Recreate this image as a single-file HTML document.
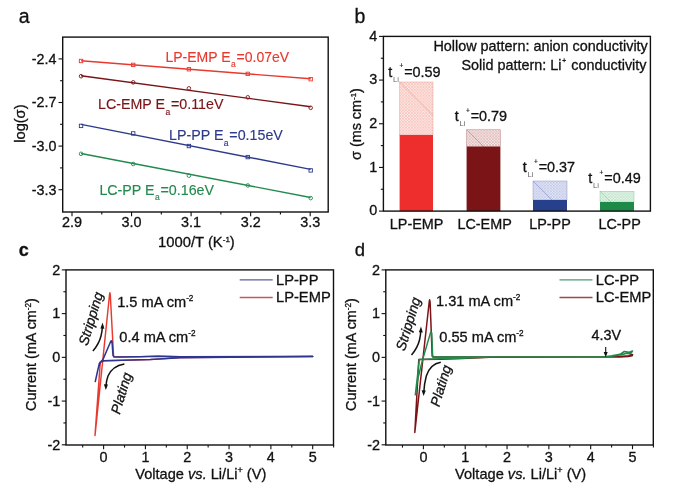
<!DOCTYPE html>
<html><head><meta charset="utf-8"><title>Figure</title>
<style>
html,body{margin:0;padding:0;background:#fff;}
svg{display:block;font-family:"Liberation Sans", sans-serif;}
</style></head><body>
<svg width="700" height="488" viewBox="0 0 700 488">
<rect width="700" height="488" fill="#fff"/>
<text x="18.7" y="22.7" font-size="19.5" text-anchor="start" fill="#111" stroke="#111" stroke-width="0.3" >a</text>
<text x="354.5" y="22.7" font-size="19.5" text-anchor="start" fill="#111" stroke="#111" stroke-width="0.3" >b</text>
<text x="18.7" y="256" font-size="18" text-anchor="start" fill="#111" stroke="#111" stroke-width="0.3" font-weight="bold">c</text>
<text x="354.7" y="256" font-size="18.5" text-anchor="start" fill="#111" stroke="#111" stroke-width="0.3" >d</text>
<rect x="62.7" y="37.1" width="265.5" height="174.9" fill="none" stroke="#111" stroke-width="1.4"/>
<line x1="58.5" y1="58.9" x2="62.7" y2="58.9" stroke="#111" stroke-width="1.1" />
<text x="56.5" y="63.8" font-size="14.3" text-anchor="end" fill="#111" stroke="#111" stroke-width="0.3" >-2.4</text>
<line x1="58.5" y1="102.50000000000003" x2="62.7" y2="102.50000000000003" stroke="#111" stroke-width="1.1" />
<text x="56.5" y="107.40000000000003" font-size="14.3" text-anchor="end" fill="#111" stroke="#111" stroke-width="0.3" >-2.7</text>
<line x1="58.5" y1="146.10000000000002" x2="62.7" y2="146.10000000000002" stroke="#111" stroke-width="1.1" />
<text x="56.5" y="151.00000000000003" font-size="14.3" text-anchor="end" fill="#111" stroke="#111" stroke-width="0.3" >-3.0</text>
<line x1="58.5" y1="189.70000000000002" x2="62.7" y2="189.70000000000002" stroke="#111" stroke-width="1.1" />
<text x="56.5" y="194.60000000000002" font-size="14.3" text-anchor="end" fill="#111" stroke="#111" stroke-width="0.3" >-3.3</text>
<line x1="60.1" y1="80.69999999999999" x2="62.7" y2="80.69999999999999" stroke="#111" stroke-width="1.1" />
<line x1="60.1" y1="124.30000000000004" x2="62.7" y2="124.30000000000004" stroke="#111" stroke-width="1.1" />
<line x1="60.1" y1="167.9" x2="62.7" y2="167.9" stroke="#111" stroke-width="1.1" />
<line x1="72.0" y1="212.0" x2="72.0" y2="216.2" stroke="#111" stroke-width="1.1" />
<text x="72.0" y="227.3" font-size="14.4" text-anchor="middle" fill="#111" stroke="#111" stroke-width="0.3" >2.9</text>
<line x1="131.55000000000007" y1="212.0" x2="131.55000000000007" y2="216.2" stroke="#111" stroke-width="1.1" />
<text x="131.55000000000007" y="227.3" font-size="14.4" text-anchor="middle" fill="#111" stroke="#111" stroke-width="0.3" >3.0</text>
<line x1="191.1000000000001" y1="212.0" x2="191.1000000000001" y2="216.2" stroke="#111" stroke-width="1.1" />
<text x="191.1000000000001" y="227.3" font-size="14.4" text-anchor="middle" fill="#111" stroke="#111" stroke-width="0.3" >3.1</text>
<line x1="250.65000000000015" y1="212.0" x2="250.65000000000015" y2="216.2" stroke="#111" stroke-width="1.1" />
<text x="250.65000000000015" y="227.3" font-size="14.4" text-anchor="middle" fill="#111" stroke="#111" stroke-width="0.3" >3.2</text>
<line x1="310.19999999999993" y1="212.0" x2="310.19999999999993" y2="216.2" stroke="#111" stroke-width="1.1" />
<text x="310.19999999999993" y="227.3" font-size="14.4" text-anchor="middle" fill="#111" stroke="#111" stroke-width="0.3" >3.3</text>
<line x1="101.77500000000016" y1="212.0" x2="101.77500000000016" y2="214.6" stroke="#111" stroke-width="1.1" />
<line x1="161.32499999999993" y1="212.0" x2="161.32499999999993" y2="214.6" stroke="#111" stroke-width="1.1" />
<line x1="220.875" y1="212.0" x2="220.875" y2="214.6" stroke="#111" stroke-width="1.1" />
<line x1="280.42500000000007" y1="212.0" x2="280.42500000000007" y2="214.6" stroke="#111" stroke-width="1.1" />
<text x="196.4" y="247.3" font-size="14.8" text-anchor="middle" fill="#111" stroke="#111" stroke-width="0.3" >1000/T (K<tspan font-size="8" dy="-5.4">-1</tspan><tspan dy="5.4">)</tspan></text>
<text x="24.6" y="123.6" font-size="14.6" text-anchor="middle" fill="#111" stroke="#111" stroke-width="0.3" transform="rotate(-90 24.6 123.6)">log(σ)</text>
<line x1="81.05160000000006" y1="60.8" x2="310.67640000000017" y2="78.8" stroke="#e8392f" stroke-width="1.4" />
<rect x="79.35" y="59.30" width="3.4" height="3.4" fill="none" stroke="#e8392f" stroke-width="0.9"/>
<rect x="131.52" y="63.19" width="3.4" height="3.4" fill="none" stroke="#e8392f" stroke-width="0.9"/>
<rect x="187.20" y="67.55" width="3.4" height="3.4" fill="none" stroke="#e8392f" stroke-width="0.9"/>
<rect x="246.09" y="72.17" width="3.4" height="3.4" fill="none" stroke="#e8392f" stroke-width="0.9"/>
<rect x="308.98" y="77.50" width="3.4" height="3.4" fill="none" stroke="#e8392f" stroke-width="0.9"/>
<line x1="81.05160000000006" y1="75.8" x2="310.67640000000017" y2="106.8" stroke="#7a1416" stroke-width="1.4" />
<circle cx="81.05" cy="76.20" r="1.8" fill="none" stroke="#7a1416" stroke-width="0.9"/>
<circle cx="133.22" cy="82.34" r="1.8" fill="none" stroke="#7a1416" stroke-width="0.9"/>
<circle cx="188.90" cy="88.36" r="1.8" fill="none" stroke="#7a1416" stroke-width="0.9"/>
<circle cx="247.79" cy="97.31" r="1.8" fill="none" stroke="#7a1416" stroke-width="0.9"/>
<circle cx="310.68" cy="107.80" r="1.8" fill="none" stroke="#7a1416" stroke-width="0.9"/>
<line x1="81.05160000000006" y1="124.4" x2="310.67640000000017" y2="169.4" stroke="#2d3a8c" stroke-width="1.4" />
<rect x="79.35" y="124.20" width="3.4" height="3.4" fill="none" stroke="#2d3a8c" stroke-width="0.9"/>
<rect x="131.52" y="131.72" width="3.4" height="3.4" fill="none" stroke="#2d3a8c" stroke-width="0.9"/>
<rect x="187.20" y="144.33" width="3.4" height="3.4" fill="none" stroke="#2d3a8c" stroke-width="0.9"/>
<rect x="246.09" y="155.38" width="3.4" height="3.4" fill="none" stroke="#2d3a8c" stroke-width="0.9"/>
<rect x="308.98" y="168.70" width="3.4" height="3.4" fill="none" stroke="#2d3a8c" stroke-width="0.9"/>
<line x1="81.05160000000006" y1="153.5" x2="310.67640000000017" y2="197.5" stroke="#238a4e" stroke-width="1.4" />
<circle cx="81.05" cy="153.80" r="1.8" fill="none" stroke="#238a4e" stroke-width="0.9"/>
<circle cx="133.22" cy="164.00" r="1.8" fill="none" stroke="#238a4e" stroke-width="0.9"/>
<circle cx="188.90" cy="175.66" r="1.8" fill="none" stroke="#238a4e" stroke-width="0.9"/>
<circle cx="247.79" cy="185.45" r="1.8" fill="none" stroke="#238a4e" stroke-width="0.9"/>
<circle cx="310.68" cy="198.10" r="1.8" fill="none" stroke="#238a4e" stroke-width="0.9"/>
<text x="165.5" y="61.7" font-size="14.0" text-anchor="start" fill="#e8392f" stroke="#e8392f" stroke-width="0.15" >LP-EMP E<tspan font-size="8.5" dy="5.7" dx="0.4">a</tspan><tspan dy="-5.7" dx="0.8">=0.07eV</tspan></text>
<text x="98" y="109.1" font-size="14.25" text-anchor="start" fill="#7a1416" stroke="#7a1416" stroke-width="0.15" >LC-EMP E<tspan font-size="8.5" dy="5.7" dx="0.4">a</tspan><tspan dy="-5.7" dx="0.8">=0.11eV</tspan></text>
<text x="169" y="140.2" font-size="14.25" text-anchor="start" fill="#2d3a8c" stroke="#2d3a8c" stroke-width="0.15" >LP-PP E<tspan font-size="8.5" dy="5.7" dx="0.4">a</tspan><tspan dy="-5.7" dx="0.8">=0.15eV</tspan></text>
<text x="99.4" y="194.6" font-size="14.25" text-anchor="start" fill="#238a4e" stroke="#238a4e" stroke-width="0.15" >LC-PP E<tspan font-size="8.5" dy="5.7" dx="0.4">a</tspan><tspan dy="-5.7" dx="0.8">=0.16eV</tspan></text>
<defs><pattern id="hR" width="2.9" height="2.9" patternUnits="userSpaceOnUse"><rect width="2.9" height="2.9" fill="#fdebe7"/><path d="M0 0L2.9 2.9M2.9 0L0 2.9" stroke="#f4a9a1" stroke-width="0.5"/></pattern><pattern id="hD" width="2.9" height="2.9" patternUnits="userSpaceOnUse"><rect width="2.9" height="2.9" fill="#f6e9e8"/><path d="M0 0L2.9 2.9M2.9 0L0 2.9" stroke="#cf9c9c" stroke-width="0.5"/></pattern><pattern id="hB" width="2.9" height="2.9" patternUnits="userSpaceOnUse"><rect width="2.9" height="2.9" fill="#e8ebf8"/><path d="M0 0L2.9 2.9M2.9 0L0 2.9" stroke="#a6aeda" stroke-width="0.5"/></pattern><pattern id="hG" width="2.9" height="2.9" patternUnits="userSpaceOnUse"><rect width="2.9" height="2.9" fill="#e8f6ec"/><path d="M0 0L2.9 2.9M2.9 0L0 2.9" stroke="#a6d7b5" stroke-width="0.5"/></pattern></defs>
<rect x="399.6" y="82" width="33.39999999999998" height="53" fill="url(#hR)" stroke="#e58a82" stroke-width="0.4"/>
<line x1="399.6" y1="82" x2="433" y2="115.4" stroke="#e58a82" stroke-width="0.5"/>
<rect x="399.6" y="135" width="33.39999999999998" height="76.1" fill="#ee2e2c"/>
<text x="388.2" y="76.5" font-size="14.4" text-anchor="start" fill="#111" stroke="#111" stroke-width="0.3" >t</text>
<text x="393.0" y="81.6" font-size="7.7" fill="#666">Li</text>
<text x="399.4" y="68.4" font-size="6.5" fill="#222" stroke="#222" stroke-width="0.2">+</text>
<text x="404.2" y="76.5" font-size="14.4" text-anchor="start" fill="#111" stroke="#111" stroke-width="0.3" >=0.59</text>
<rect x="466.6" y="129.8" width="33.799999999999955" height="16.799999999999983" fill="url(#hD)" stroke="#a86a6c" stroke-width="0.4"/>
<line x1="467" y1="130" x2="484" y2="147" stroke="#a86a6c" stroke-width="0.5"/>
<rect x="466.6" y="146.6" width="33.799999999999955" height="64.5" fill="#7a1416"/>
<text x="454.7" y="121.2" font-size="14.4" text-anchor="start" fill="#111" stroke="#111" stroke-width="0.3" >t</text>
<text x="459.5" y="126.3" font-size="7.7" fill="#666">Li</text>
<text x="465.9" y="113.10000000000001" font-size="6.5" fill="#222" stroke="#222" stroke-width="0.2">+</text>
<text x="470.7" y="121.2" font-size="14.4" text-anchor="start" fill="#111" stroke="#111" stroke-width="0.3" >=0.79</text>
<rect x="533" y="181" width="34" height="19" fill="url(#hB)" stroke="#7580bd" stroke-width="0.4"/>
<line x1="533" y1="181" x2="552" y2="200" stroke="#7580bd" stroke-width="0.5"/>
<rect x="533" y="200" width="34" height="11.099999999999994" fill="#27408b"/>
<text x="522.7" y="171.6" font-size="14.4" text-anchor="start" fill="#111" stroke="#111" stroke-width="0.3" >t</text>
<text x="527.5" y="176.7" font-size="7.7" fill="#666">Li</text>
<text x="533.9" y="163.5" font-size="6.5" fill="#222" stroke="#222" stroke-width="0.2">+</text>
<text x="538.7" y="171.6" font-size="14.4" text-anchor="start" fill="#111" stroke="#111" stroke-width="0.3" >=0.37</text>
<rect x="600" y="191.2" width="34" height="10.800000000000011" fill="url(#hG)" stroke="#7cbf92" stroke-width="0.4"/>
<line x1="600" y1="191.2" x2="610.8" y2="202" stroke="#7cbf92" stroke-width="0.5"/>
<rect x="600" y="202" width="34" height="9.099999999999994" fill="#1e8a47"/>
<text x="588.3000000000001" y="182.6" font-size="14.4" text-anchor="start" fill="#111" stroke="#111" stroke-width="0.3" >t</text>
<text x="593.1" y="187.7" font-size="7.7" fill="#666">Li</text>
<text x="599.5" y="174.5" font-size="6.5" fill="#222" stroke="#222" stroke-width="0.2">+</text>
<text x="604.3000000000001" y="182.6" font-size="14.4" text-anchor="start" fill="#111" stroke="#111" stroke-width="0.3" >=0.49</text>
<rect x="383.4" y="36.4" width="267.0" height="174.7" fill="none" stroke="#111" stroke-width="1.4"/>
<line x1="379.0" y1="211.1" x2="383.4" y2="211.1" stroke="#111" stroke-width="1.1" />
<text x="377.3" y="215.4" font-size="14.4" text-anchor="end" fill="#111" stroke="#111" stroke-width="0.3" >0</text>
<line x1="379.0" y1="167.425" x2="383.4" y2="167.425" stroke="#111" stroke-width="1.1" />
<text x="377.3" y="171.72500000000002" font-size="14.4" text-anchor="end" fill="#111" stroke="#111" stroke-width="0.3" >1</text>
<line x1="379.0" y1="123.75" x2="383.4" y2="123.75" stroke="#111" stroke-width="1.1" />
<text x="377.3" y="128.05" font-size="14.4" text-anchor="end" fill="#111" stroke="#111" stroke-width="0.3" >2</text>
<line x1="379.0" y1="80.07500000000002" x2="383.4" y2="80.07500000000002" stroke="#111" stroke-width="1.1" />
<text x="377.3" y="84.37500000000001" font-size="14.4" text-anchor="end" fill="#111" stroke="#111" stroke-width="0.3" >3</text>
<line x1="379.0" y1="36.400000000000006" x2="383.4" y2="36.400000000000006" stroke="#111" stroke-width="1.1" />
<text x="377.3" y="40.7" font-size="14.4" text-anchor="end" fill="#111" stroke="#111" stroke-width="0.3" >4</text>
<line x1="380.79999999999995" y1="189.2625" x2="383.4" y2="189.2625" stroke="#111" stroke-width="1.1" />
<line x1="380.79999999999995" y1="145.5875" x2="383.4" y2="145.5875" stroke="#111" stroke-width="1.1" />
<line x1="380.79999999999995" y1="101.9125" x2="383.4" y2="101.9125" stroke="#111" stroke-width="1.1" />
<line x1="380.79999999999995" y1="58.23750000000001" x2="383.4" y2="58.23750000000001" stroke="#111" stroke-width="1.1" />
<text x="416.6" y="228.6" font-size="14.4" text-anchor="middle" fill="#111" stroke="#111" stroke-width="0.3" >LP-EMP</text>
<text x="484.6" y="228.6" font-size="14.4" text-anchor="middle" fill="#111" stroke="#111" stroke-width="0.3" >LC-EMP</text>
<text x="550" y="228.6" font-size="14.4" text-anchor="middle" fill="#111" stroke="#111" stroke-width="0.3" >LP-PP</text>
<text x="619.6" y="228.6" font-size="14.4" text-anchor="middle" fill="#111" stroke="#111" stroke-width="0.3" >LC-PP</text>
<text x="647.8" y="50.6" font-size="14.4" text-anchor="end" fill="#111" stroke="#111" stroke-width="0.3" >Hollow pattern: anion conductivity</text>
<text x="646.5" y="70.2" font-size="14.4" text-anchor="end" fill="#111" stroke="#111" stroke-width="0.3" >Solid pattern: Li<tspan font-size="6.5" dy="-6.8" dx="0.8">+</tspan><tspan dy="6.8" dx="1.2"> conductivity</tspan></text>
<text x="361.3" y="124.1" font-size="14.4" text-anchor="middle" fill="#111" stroke="#111" stroke-width="0.3" transform="rotate(-90 361.3 124.1)">σ (ms cm<tspan font-size="7.8" dy="-5.4">-1</tspan><tspan dy="5.4">)</tspan></text>
<path d="M100.3 362 L95 435.5 L109.5 295 L109.9 292.8 L110.3 295 L113.6 356.6 L120 357 L140 356.6 L158 356.1 L180 356.7 L312.8 356.5 L180 357.6 L150 359.6 L104 360.8 L100.3 362" fill="none" stroke="#e8392f" stroke-width="1.45" stroke-linejoin="round" stroke-linecap="round" />
<path d="M100.5 362 L98 369 L95.3 381.5 L97.6 371 L99.4 363.2 L102.9 359.6 L110.8 341.2 L111.4 340.8 L112 341.6 L113 355.4 L114.1 357 L140 356.7 L158 356.2 L180 356.8 L312.8 356.5 L180 357.7 L150 359.6 L104 360.8 L100.5 362" fill="none" stroke="#2d3590" stroke-width="1.5" stroke-linejoin="round" stroke-linecap="round" />
<rect x="66.0" y="269.9" width="267.5" height="175.10000000000002" fill="none" stroke="#111" stroke-width="1.4"/>
<line x1="61.8" y1="269.90000000000003" x2="66.0" y2="269.90000000000003" stroke="#111" stroke-width="1.1" />
<text x="60.2" y="274.6" font-size="14.4" text-anchor="end" fill="#111" stroke="#111" stroke-width="0.3" >2</text>
<line x1="61.8" y1="313.625" x2="66.0" y2="313.625" stroke="#111" stroke-width="1.1" />
<text x="60.2" y="318.325" font-size="14.4" text-anchor="end" fill="#111" stroke="#111" stroke-width="0.3" >1</text>
<line x1="61.8" y1="357.35" x2="66.0" y2="357.35" stroke="#111" stroke-width="1.1" />
<text x="60.2" y="362.05" font-size="14.4" text-anchor="end" fill="#111" stroke="#111" stroke-width="0.3" >0</text>
<line x1="61.8" y1="401.07500000000005" x2="66.0" y2="401.07500000000005" stroke="#111" stroke-width="1.1" />
<text x="60.2" y="405.77500000000003" font-size="14.4" text-anchor="end" fill="#111" stroke="#111" stroke-width="0.3" >-1</text>
<line x1="61.8" y1="444.8" x2="66.0" y2="444.8" stroke="#111" stroke-width="1.1" />
<text x="60.2" y="449.5" font-size="14.4" text-anchor="end" fill="#111" stroke="#111" stroke-width="0.3" >-2</text>
<line x1="63.4" y1="291.76250000000005" x2="66.0" y2="291.76250000000005" stroke="#111" stroke-width="1.1" />
<line x1="63.4" y1="335.4875" x2="66.0" y2="335.4875" stroke="#111" stroke-width="1.1" />
<line x1="63.4" y1="379.21250000000003" x2="66.0" y2="379.21250000000003" stroke="#111" stroke-width="1.1" />
<line x1="63.4" y1="422.9375" x2="66.0" y2="422.9375" stroke="#111" stroke-width="1.1" />
<line x1="103.6" y1="445.0" x2="103.6" y2="449.2" stroke="#111" stroke-width="1.1" />
<text x="103.6" y="461.8" font-size="14.4" text-anchor="middle" fill="#111" stroke="#111" stroke-width="0.3" >0</text>
<line x1="145.42" y1="445.0" x2="145.42" y2="449.2" stroke="#111" stroke-width="1.1" />
<text x="145.42" y="461.8" font-size="14.4" text-anchor="middle" fill="#111" stroke="#111" stroke-width="0.3" >1</text>
<line x1="187.24" y1="445.0" x2="187.24" y2="449.2" stroke="#111" stroke-width="1.1" />
<text x="187.24" y="461.8" font-size="14.4" text-anchor="middle" fill="#111" stroke="#111" stroke-width="0.3" >2</text>
<line x1="229.06" y1="445.0" x2="229.06" y2="449.2" stroke="#111" stroke-width="1.1" />
<text x="229.06" y="461.8" font-size="14.4" text-anchor="middle" fill="#111" stroke="#111" stroke-width="0.3" >3</text>
<line x1="270.88" y1="445.0" x2="270.88" y2="449.2" stroke="#111" stroke-width="1.1" />
<text x="270.88" y="461.8" font-size="14.4" text-anchor="middle" fill="#111" stroke="#111" stroke-width="0.3" >4</text>
<line x1="312.7" y1="445.0" x2="312.7" y2="449.2" stroke="#111" stroke-width="1.1" />
<text x="312.7" y="461.8" font-size="14.4" text-anchor="middle" fill="#111" stroke="#111" stroke-width="0.3" >5</text>
<line x1="82.69" y1="445.0" x2="82.69" y2="447.6" stroke="#111" stroke-width="1.1" />
<line x1="124.50999999999999" y1="445.0" x2="124.50999999999999" y2="447.6" stroke="#111" stroke-width="1.1" />
<line x1="166.32999999999998" y1="445.0" x2="166.32999999999998" y2="447.6" stroke="#111" stroke-width="1.1" />
<line x1="208.14999999999998" y1="445.0" x2="208.14999999999998" y2="447.6" stroke="#111" stroke-width="1.1" />
<line x1="249.97" y1="445.0" x2="249.97" y2="447.6" stroke="#111" stroke-width="1.1" />
<line x1="291.78999999999996" y1="445.0" x2="291.78999999999996" y2="447.6" stroke="#111" stroke-width="1.1" />
<line x1="333.61" y1="445.0" x2="333.61" y2="447.6" stroke="#111" stroke-width="1.1" />
<text x="200.8" y="479.4" font-size="14.6" text-anchor="middle" fill="#111" stroke="#111" stroke-width="0.3" >Voltage <tspan font-style="italic">vs.</tspan> Li/Li<tspan font-size="9" dy="-6">+</tspan><tspan dy="6"> (V)</tspan></text>
<text x="36.4" y="354.5" font-size="14.4" text-anchor="middle" fill="#111" stroke="#111" stroke-width="0.3" transform="rotate(-90 36.4 354.5)">Current (mA cm<tspan font-size="8.2" dy="-5.6">-2</tspan><tspan dy="5.6">)</tspan></text>
<line x1="239.7" y1="279.9" x2="272.7" y2="279.9" stroke="#5a5f9a" stroke-width="1.4" />
<text x="276" y="284.59999999999997" font-size="14.7" text-anchor="start" fill="#111" stroke="#111" stroke-width="0.3" >LP-PP</text>
<line x1="239.7" y1="297.5" x2="272.7" y2="297.5" stroke="#c8565a" stroke-width="1.4" />
<text x="276" y="302.2" font-size="14.7" text-anchor="start" fill="#111" stroke="#111" stroke-width="0.3" >LP-EMP</text>
<text x="117.2" y="306.5" font-size="14.6" text-anchor="start" fill="#111" stroke="#111" stroke-width="0.3" >1.5 mA cm<tspan font-size="8.2" dy="-5.8">-2</tspan></text>
<text x="119.3" y="341.9" font-size="14.6" text-anchor="start" fill="#111" stroke="#111" stroke-width="0.3" >0.4 mA cm<tspan font-size="8.2" dy="-5.8">-2</tspan></text>
<text x="0" y="0" font-size="13.9" text-anchor="middle" fill="#111" stroke="#111" stroke-width="0.3" font-style="italic" transform="translate(95.3,320.1) rotate(-73.2)">Stripping</text>
<text x="0" y="0" font-size="13.9" text-anchor="middle" fill="#111" stroke="#111" stroke-width="0.3" font-style="italic" transform="translate(125.8,394.6) rotate(-73.2)">Plating</text>
<path d="M92.9 351 Q99 344 101 336 Q102.3 331 102.4 326" fill="none" stroke="#111" stroke-width="1.5"/><path d="M100.4 328.5 L102.6 322.6 L104.4 328.7Z" fill="#111"/>
<path d="M124.4 363.9 Q112 366 108 376 Q106.2 381 106 386" fill="none" stroke="#111" stroke-width="1.5"/><path d="M103.9 384.3 L105.8 390 L108 384.5Z" fill="#111"/>
<path d="M418.8 359.5 L414.8 432.5 L429.2 302 L429.6 299.8 L430.1 302 L432.2 356.2 L433 357 L460 357 L603 356.9 L620 357.1 L628 356.6 L632.2 355.8 L632.6 354.6 L631 354.8 L628.6 355.8 L620 356.6 L603 357.1 L490 357.2 L462 358.6 L440 359.2 L418.8 359.6" fill="none" stroke="#7a1416" stroke-width="1.5" stroke-linejoin="round" stroke-linecap="round" />
<path d="M419.3 359.5 L417.6 375 L415.3 394.8 L418 378 L420.5 368 L423 358.4 L430.6 332.4 L431.2 332 L431.7 332.8 L432.6 355 L433.3 357 L460 357 L603.5 357 L612 355.8 L620 354.3 L624.3 351.5 L629.3 352.2 L632.5 351 L630.7 353.5 L626.4 353.3 L622 354.7 L616.4 355.6 L605 357.2 L490 357.1 L462 358.2 L440 358.8 L419.3 359.5" fill="none" stroke="#1f8a4a" stroke-width="1.5" stroke-linejoin="round" stroke-linecap="round" />
<rect x="385.8" y="269.9" width="267.49999999999994" height="175.10000000000002" fill="none" stroke="#111" stroke-width="1.4"/>
<line x1="381.6" y1="269.90000000000003" x2="385.8" y2="269.90000000000003" stroke="#111" stroke-width="1.1" />
<text x="380.0" y="274.6" font-size="14.4" text-anchor="end" fill="#111" stroke="#111" stroke-width="0.3" >2</text>
<line x1="381.6" y1="313.625" x2="385.8" y2="313.625" stroke="#111" stroke-width="1.1" />
<text x="380.0" y="318.325" font-size="14.4" text-anchor="end" fill="#111" stroke="#111" stroke-width="0.3" >1</text>
<line x1="381.6" y1="357.35" x2="385.8" y2="357.35" stroke="#111" stroke-width="1.1" />
<text x="380.0" y="362.05" font-size="14.4" text-anchor="end" fill="#111" stroke="#111" stroke-width="0.3" >0</text>
<line x1="381.6" y1="401.07500000000005" x2="385.8" y2="401.07500000000005" stroke="#111" stroke-width="1.1" />
<text x="380.0" y="405.77500000000003" font-size="14.4" text-anchor="end" fill="#111" stroke="#111" stroke-width="0.3" >-1</text>
<line x1="381.6" y1="444.8" x2="385.8" y2="444.8" stroke="#111" stroke-width="1.1" />
<text x="380.0" y="449.5" font-size="14.4" text-anchor="end" fill="#111" stroke="#111" stroke-width="0.3" >-2</text>
<line x1="383.2" y1="291.76250000000005" x2="385.8" y2="291.76250000000005" stroke="#111" stroke-width="1.1" />
<line x1="383.2" y1="335.4875" x2="385.8" y2="335.4875" stroke="#111" stroke-width="1.1" />
<line x1="383.2" y1="379.21250000000003" x2="385.8" y2="379.21250000000003" stroke="#111" stroke-width="1.1" />
<line x1="383.2" y1="422.9375" x2="385.8" y2="422.9375" stroke="#111" stroke-width="1.1" />
<line x1="423.4" y1="445.0" x2="423.4" y2="449.2" stroke="#111" stroke-width="1.1" />
<text x="423.4" y="461.8" font-size="14.4" text-anchor="middle" fill="#111" stroke="#111" stroke-width="0.3" >0</text>
<line x1="465.21999999999997" y1="445.0" x2="465.21999999999997" y2="449.2" stroke="#111" stroke-width="1.1" />
<text x="465.21999999999997" y="461.8" font-size="14.4" text-anchor="middle" fill="#111" stroke="#111" stroke-width="0.3" >1</text>
<line x1="507.03999999999996" y1="445.0" x2="507.03999999999996" y2="449.2" stroke="#111" stroke-width="1.1" />
<text x="507.03999999999996" y="461.8" font-size="14.4" text-anchor="middle" fill="#111" stroke="#111" stroke-width="0.3" >2</text>
<line x1="548.86" y1="445.0" x2="548.86" y2="449.2" stroke="#111" stroke-width="1.1" />
<text x="548.86" y="461.8" font-size="14.4" text-anchor="middle" fill="#111" stroke="#111" stroke-width="0.3" >3</text>
<line x1="590.68" y1="445.0" x2="590.68" y2="449.2" stroke="#111" stroke-width="1.1" />
<text x="590.68" y="461.8" font-size="14.4" text-anchor="middle" fill="#111" stroke="#111" stroke-width="0.3" >4</text>
<line x1="632.5" y1="445.0" x2="632.5" y2="449.2" stroke="#111" stroke-width="1.1" />
<text x="632.5" y="461.8" font-size="14.4" text-anchor="middle" fill="#111" stroke="#111" stroke-width="0.3" >5</text>
<line x1="402.48999999999995" y1="445.0" x2="402.48999999999995" y2="447.6" stroke="#111" stroke-width="1.1" />
<line x1="444.31" y1="445.0" x2="444.31" y2="447.6" stroke="#111" stroke-width="1.1" />
<line x1="486.13" y1="445.0" x2="486.13" y2="447.6" stroke="#111" stroke-width="1.1" />
<line x1="527.9499999999999" y1="445.0" x2="527.9499999999999" y2="447.6" stroke="#111" stroke-width="1.1" />
<line x1="569.77" y1="445.0" x2="569.77" y2="447.6" stroke="#111" stroke-width="1.1" />
<line x1="611.5899999999999" y1="445.0" x2="611.5899999999999" y2="447.6" stroke="#111" stroke-width="1.1" />
<line x1="653.41" y1="445.0" x2="653.41" y2="447.6" stroke="#111" stroke-width="1.1" />
<text x="520.6" y="479.4" font-size="14.6" text-anchor="middle" fill="#111" stroke="#111" stroke-width="0.3" >Voltage <tspan font-style="italic">vs.</tspan> Li/Li<tspan font-size="9" dy="-6">+</tspan><tspan dy="6"> (V)</tspan></text>
<text x="356.2" y="354.5" font-size="14.4" text-anchor="middle" fill="#111" stroke="#111" stroke-width="0.3" transform="rotate(-90 356.2 354.5)">Current (mA cm<tspan font-size="8.2" dy="-5.6">-2</tspan><tspan dy="5.6">)</tspan></text>
<line x1="559.5" y1="279.9" x2="592.5" y2="279.9" stroke="#4f9a70" stroke-width="1.4" />
<text x="595.8" y="284.59999999999997" font-size="14.7" text-anchor="start" fill="#111" stroke="#111" stroke-width="0.3" >LC-PP</text>
<line x1="559.5" y1="297.5" x2="592.5" y2="297.5" stroke="#9a4a4c" stroke-width="1.4" />
<text x="595.8" y="302.2" font-size="14.7" text-anchor="start" fill="#111" stroke="#111" stroke-width="0.3" >LC-EMP</text>
<text x="436" y="306.2" font-size="14.6" text-anchor="start" fill="#111" stroke="#111" stroke-width="0.3" >1.31 mA cm<tspan font-size="8.2" dy="-5.8">-2</tspan></text>
<text x="439.3" y="341.6" font-size="14.6" text-anchor="start" fill="#111" stroke="#111" stroke-width="0.3" >0.55 mA cm<tspan font-size="8.2" dy="-5.8">-2</tspan></text>
<text x="0" y="0" font-size="13.9" text-anchor="middle" fill="#111" stroke="#111" stroke-width="0.3" font-style="italic" transform="translate(412.7,325.3) rotate(-73.2)">Stripping</text>
<text x="0" y="0" font-size="13.9" text-anchor="middle" fill="#111" stroke="#111" stroke-width="0.3" font-style="italic" transform="translate(445.3,387.1) rotate(-73.2)">Plating</text>
<path d="M411.5 355 Q417.5 348 419.5 340 Q420.7 335 420.8 330" fill="none" stroke="#111" stroke-width="1.5"/><path d="M418.8 332.3 L421 326.4 L422.8 332.5Z" fill="#111"/>
<path d="M440.8 362.2 Q430 364 426.3 376 Q424.2 384 423.8 392" fill="none" stroke="#111" stroke-width="1.5"/><path d="M421.6 390.3 L423.6 396 L425.8 390.5Z" fill="#111"/>
<text x="606.4" y="339.6" font-size="14.4" text-anchor="middle" fill="#111" stroke="#111" stroke-width="0.3" >4.3V</text>
<line x1="605.7" y1="347" x2="605.7" y2="354" stroke="#111" stroke-width="1.1" />
<path d="M603.7 352 L605.7 357.2 L607.7 352Z" fill="#111"/>
</svg>
</body></html>
